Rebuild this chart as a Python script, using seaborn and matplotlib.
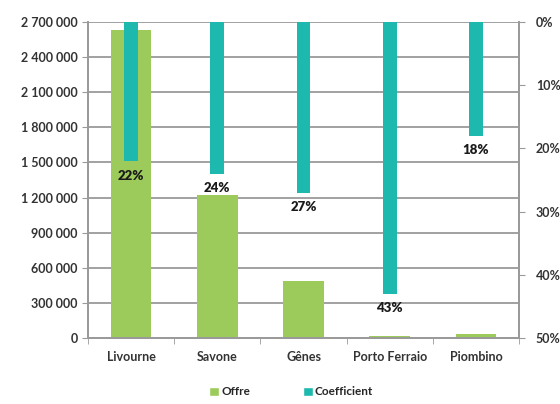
import matplotlib
matplotlib.use("Agg")
import matplotlib.pyplot as plt
import seaborn as sns
import numpy as np
from matplotlib.ticker import FuncFormatter, FixedLocator
from matplotlib.patches import Patch

ports = ["Livourne", "Savone", "Gênes", "Porto Ferraio", "Piombino"]
offre = [2630000, 1220000, 490000, 20000, 32000]
coefficient = [0.22, 0.24, 0.27, 0.43, 0.18]
coef_labels = ["22%", "24%", "27%", "43%", "18%"]

green = "#9CCB5B"
teal = "#1EB9AE"
grey = "#9a9a9a"

sns.set_style("white")
plt.rcParams["font.family"] = ["Lato", "DejaVu Sans"]
plt.rcParams["font.weight"] = "bold"

fig = plt.figure(figsize=(5.6, 4.04), dpi=100)
ax = fig.add_axes([0.157, 0.163, 0.770, 0.783])
ax2 = ax.twinx()

sns.barplot(x=ports, y=offre, ax=ax, color=green, width=0.47, saturation=1,
            linewidth=0, edgecolor="none", zorder=2)
ax.set_ylim(0, 2700000)
ax.set_yticks(np.arange(0, 2700001, 300000))
ax.yaxis.set_major_formatter(FuncFormatter(lambda v, p: f"{int(v):,}".replace(",", " ")))
ax.grid(axis="y", color=grey, lw=1.3, zorder=0)
ax.set_axisbelow(True)

sns.barplot(x=ports, y=coefficient, ax=ax2, color=teal, width=0.16, saturation=1,
            linewidth=0, edgecolor="none", zorder=3)
ax2.set_ylim(0.5, 0)
ax2.set_yticks(np.arange(0, 0.51, 0.1))
ax2.yaxis.set_major_formatter(FuncFormatter(lambda v, p: f"{v*100:.0f}%"))

# labels sit just under the end of each teal bar
for i, (c, lab) in enumerate(zip(coefficient, coef_labels)):
    ax2.annotate(lab, (i, c), xytext=(0, -10.5), textcoords="offset points",
                 ha="center", va="center", fontsize=9.5, fontweight="heavy", color="#1a1a1a")

for a in (ax, ax2):
    a.set_xlabel("")
    a.set_ylabel("")
    for s in a.spines.values():
        s.set_color(grey)
        s.set_linewidth(1.3)
    a.spines["top"].set_visible(False)

ax.tick_params(axis="y", which="major", length=4, color=grey, labelsize=9, labelcolor="#333333", left=True)
ax2.tick_params(axis="y", which="major", length=4, color=grey, labelsize=9, labelcolor="#333333", right=True, pad=8)
ax.tick_params(axis="x", which="major", length=0, labelsize=9, labelcolor="#333333", pad=9)
ax.xaxis.set_minor_locator(FixedLocator(np.arange(-0.5, len(ports), 1)))
ax.tick_params(axis="x", which="minor", length=4, color=grey, bottom=True)
ax.set_xlim(-0.5, len(ports) - 0.5)

handles = [Patch(facecolor=green, label="Offre"), Patch(facecolor=teal, label="Coefficient")]
fig.legend(handles=handles, loc="lower center", bbox_to_anchor=(0.52, -0.01), ncol=2,
           frameon=False, fontsize=8.5, handlelength=0.8, handleheight=0.8,
           handletextpad=0.2, columnspacing=4.5)

fig.savefig("out.png", dpi=100)
